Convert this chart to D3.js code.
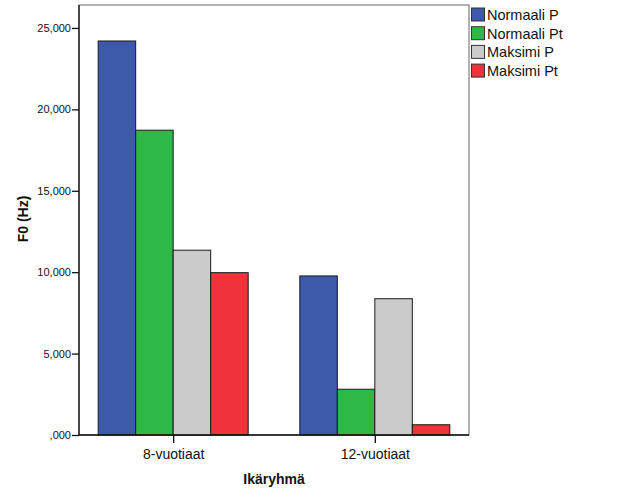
<!DOCTYPE html>
<html><head><meta charset="utf-8">
<script src="https://cdn.jsdelivr.net/npm/d3@7"></script>
<style>body{margin:0;background:#fff}svg{display:block}text{font-family:"Liberation Sans",Arial,sans-serif}</style>
</head><body><svg id="c" width="626" height="501"></svg>
<script>
const categories = ["8-vuotiaat", "12-vuotiaat"];
const seriesNames = ["Normaali P", "Normaali Pt", "Maksimi P", "Maksimi Pt"];
const normaaliP = [24.20, 9.77];
const normaaliPt = [18.72, 2.81];
const maksimiP = [11.35, 8.37];
const maksimiPt = [9.97, 0.63];
const yTicks = [0, 5, 10, 15, 20, 25];
const colors = ["#3E58AC", "#2EB848", "#CBCBCB", "#F0323A"];

const seriesValues = [normaaliP, normaaliPt, maksimiP, maksimiPt];
const svg = d3.select("#c");
const L = 79, R = 469, T = 5, B = 435;
const y = d3.scaleLinear().domain([0, 26.41]).range([B, T]);
const x = d3.scalePoint().domain(categories).range([L, R]).padding(0.467);
const groupW = 150;
const xs = d3.scaleBand().domain(seriesNames).range([-groupW/2, groupW/2]).padding(0);
const loc = d3.formatLocale({decimal: ",", thousands: " ", grouping: [3], currency: ["", ""]});
const fmt = v => loc.format(".3f")(v).replace(/^0,/, ",");

// frame
svg.append("rect").attr("x", L).attr("y", T).attr("width", R - L).attr("height", B - T)
  .attr("fill", "#fff").attr("stroke", "#888").attr("stroke-width", 1.3);

// bars
seriesNames.forEach((s, i) => {
  svg.append("g").selectAll("rect").data(categories).join("rect")
    .attr("x", (c) => x(c) + xs(s))
    .attr("y", (c, j) => y(seriesValues[i][j]))
    .attr("width", xs.bandwidth())
    .attr("height", (c, j) => B - y(seriesValues[i][j]))
    .attr("fill", colors[i]).attr("stroke", "#1a1a1a").attr("stroke-width", 1);
});

// y axis
const ya = svg.append("g").attr("transform", `translate(${L},0)`)
  .call(d3.axisLeft(y).tickValues(yTicks).tickFormat(fmt).tickSize(7).tickPadding(1));
ya.select(".domain").attr("d", `M0,${T}V${B}`).attr("stroke", "#111").attr("stroke-width", 1.3);
ya.selectAll(".tick line").attr("stroke", "#111").attr("stroke-width", 1.3);
ya.selectAll(".tick text").attr("font-size", 11).attr("fill", "#111").attr("font-family", "Liberation Sans, Arial, sans-serif");

// x axis
const xa = svg.append("g").attr("transform", `translate(0,${B})`)
  .call(d3.axisBottom(x).tickSize(8).tickPadding(6));
xa.select(".domain").attr("d", `M${L},0H${R}`).attr("stroke", "#111").attr("stroke-width", 1.3);
xa.selectAll(".tick line").attr("stroke", "#111").attr("stroke-width", 1.3);
xa.selectAll(".tick text").attr("font-size", 14).attr("fill", "#111").attr("font-family", "Liberation Sans, Arial, sans-serif");

// axis titles
svg.append("text").attr("x", (L + R) / 2 - 0).attr("y", 484).attr("text-anchor", "middle")
  .attr("font-size", 14).attr("font-weight", "bold").attr("fill", "#111").text("Ikäryhmä");
svg.append("text").attr("transform", `translate(28,${219}) rotate(-90)`).attr("text-anchor", "middle")
  .attr("font-size", 14).attr("font-weight", "bold").attr("fill", "#111").text("F0 (Hz)");

// legend
const lg = svg.append("g").attr("transform", "translate(471,8)");
seriesNames.forEach((s, i) => {
  const g = lg.append("g").attr("transform", `translate(0,${i * 18.7})`);
  g.append("rect").attr("x", 0.5).attr("y", 0).attr("width", 13).attr("height", 13)
    .attr("fill", colors[i]).attr("stroke", "#333").attr("stroke-width", 1);
  g.append("text").attr("x", 16).attr("y", 12).attr("font-size", 14.5).attr("fill", "#111").text(s);
});
</script></body></html>
